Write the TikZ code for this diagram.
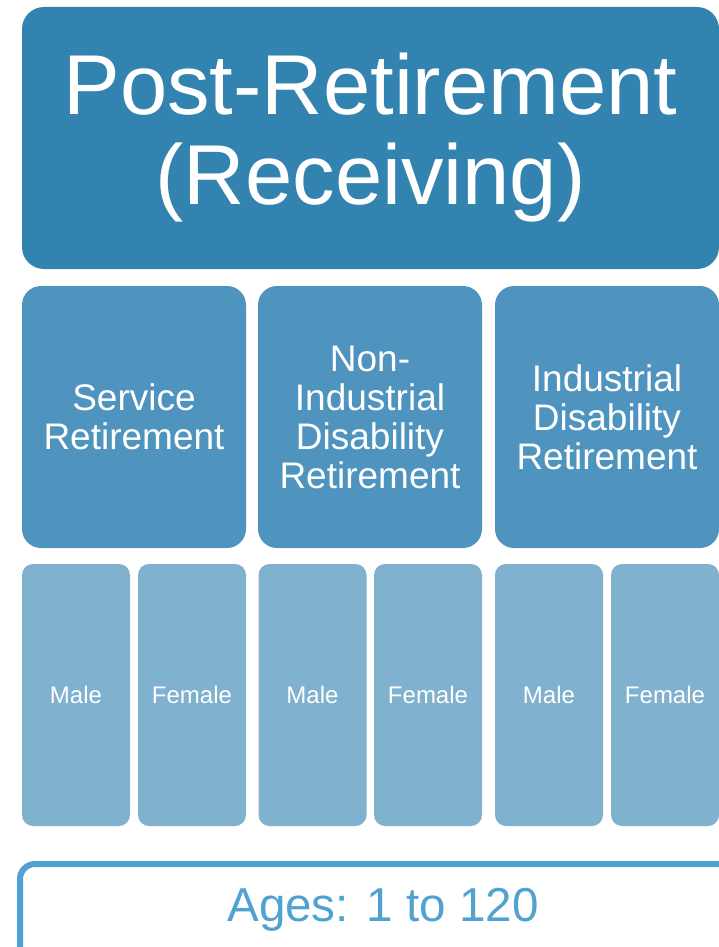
\documentclass[tikz,border=0pt]{standalone}
\usepackage{fontspec}
\setmainfont{Liberation Sans}
\definecolor{topblue}{HTML}{3383B0}
\definecolor{midblue}{HTML}{4E94BE}
\definecolor{lowblue}{HTML}{80B1CF}
\definecolor{ageblue}{HTML}{4FA2D1}
\tikzset{
  headbox/.style={fill=topblue, rounded corners=22pt, inner sep=0pt,
    minimum width=697pt, minimum height=262pt, text=white, align=center,
    font=\fontsize{85}{90}\selectfont},
  groupbox/.style={fill=midblue, rounded corners=19pt, inner sep=0pt,
    minimum width=224pt, minimum height=262pt, text=white, align=center,
    font=\fontsize{37}{39}\selectfont},
  sexbox/.style={fill=lowblue, rounded corners=11pt, inner sep=0pt,
    minimum width=108pt, minimum height=262pt, text=white,
    font=\fontsize{24}{28}\selectfont},
  agebox/.style={draw=ageblue, line width=6pt, rounded corners=15pt,
    inner sep=0pt, minimum width=726pt, minimum height=150pt},
  agetext/.style={text=ageblue, inner sep=0pt, font=\fontsize{47.6}{52}\selectfont}
}
\begin{document}
\begin{tikzpicture}[x=1pt,y=-1pt]
  \useasboundingbox (0,0) rectangle (719,947);
  \clip (0,0) rectangle (719,947);
  % header
  \node[headbox] (head) at (370.5,138) {Post-Retirement\\(Receiving)};
  % retirement types
  \node[groupbox] (service) at (134,417) {Service\\Retirement};
  \node[groupbox] (nonind) at (370,417) {Non-\\Industrial\\Disability\\Retirement};
  \node[groupbox] (ind) at (607,417) {Industrial\\Disability\\Retirement};
  % sex split
  \node[sexbox] (sm) at (76,695) {Male};
  \node[sexbox] (sf) at (192,695) {Female};
  \node[sexbox] (nm) at (312.5,695) {Male};
  \node[sexbox] (nf) at (428,695) {Female};
  \node[sexbox] (im) at (549,695) {Male};
  \node[sexbox] (if) at (665,695) {Female};
  % age range
  \node[agebox] (ages) at (383,939) {};
  \node[agetext] (agelabel) at (383,910) {Ages: 1 to 120};
\end{tikzpicture}
\end{document}
